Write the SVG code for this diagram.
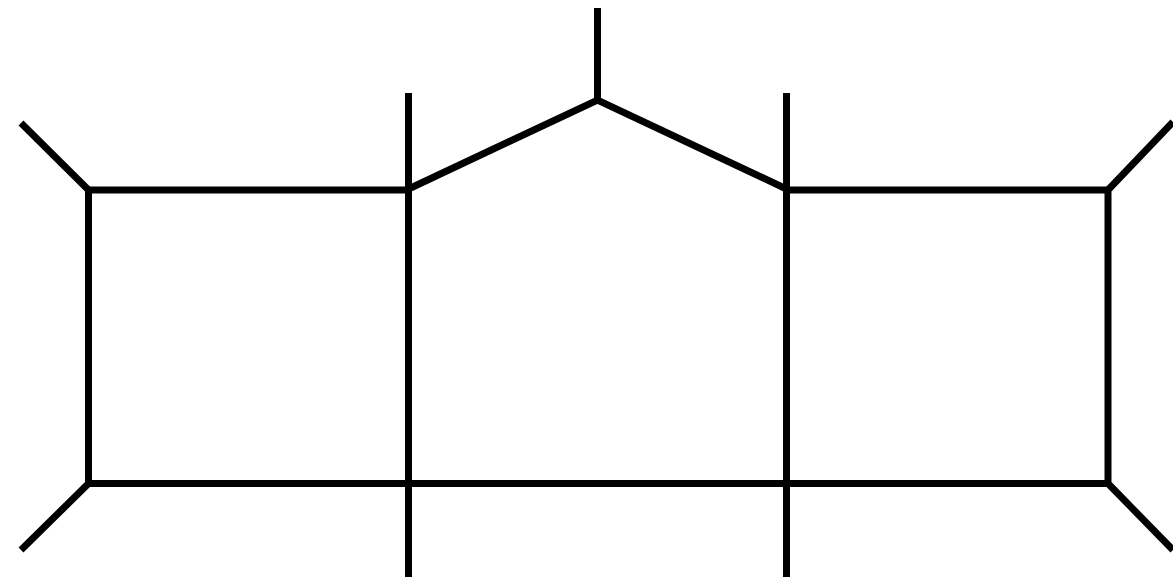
<svg xmlns="http://www.w3.org/2000/svg" width="1173" height="577" viewBox="0 0 1173 577">
<style>
.l{fill:none;stroke:#000;stroke-width:7;stroke-linecap:butt;stroke-linejoin:miter}
</style>
<rect width="1173" height="577" fill="#fff"/>
<g id="structure">
<polyline class="l" points="21,123 88.5,190 88.5,483.5 21,550"/>
<polyline class="l" points="1173,122 1108,190 1108,483.5 1173,550"/>
<line class="l" x1="85" y1="190" x2="408.5" y2="190"/>
<line class="l" x1="786.5" y1="190" x2="1111" y2="190"/>
<line class="l" x1="85" y1="483.5" x2="1111" y2="483.5"/>
<polyline class="l" points="408.5,189 597.5,100 786.5,189"/>
<line class="l" x1="597.5" y1="8" x2="597.5" y2="100"/>
<line class="l" x1="408.5" y1="93" x2="408.5" y2="577"/>
<line class="l" x1="786.5" y1="93" x2="786.5" y2="577"/>
</g>
</svg>
